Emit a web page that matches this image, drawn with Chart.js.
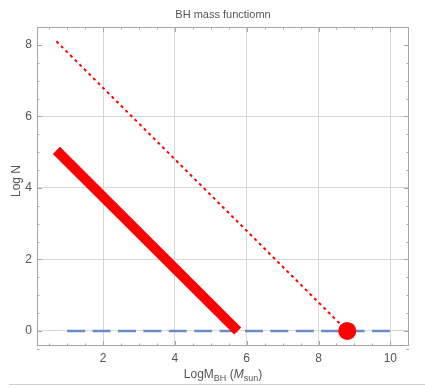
<!DOCTYPE html>
<html>
<head>
<meta charset="utf-8">
<script src="https://cdn.jsdelivr.net/npm/chart.js@4"></script>
<style>
  body { margin: 0; background: #fff; }
  #wrap { width: 425px; height: 388px; }
</style>
</head>
<body>
<div id="wrap"><canvas id="chart" width="425" height="388"></canvas></div>
<script>
// values
var thickX = [0.7, 5.75];
var thickY = [5.05, 0];
var dottedX = [0.7, 8.8];
var dottedY = [8.1, 0];
var dashedX = [1, 10];
var dashedY = [0, 0];
var pointX = [8.8];
var pointY = [0];
var xTicks = [2, 4, 6, 8, 10];
var yTicks = [0, 2, 4, 6, 8];

var grey = '#555';
var font = '"Liberation Sans", Arial, sans-serif';

function pts(xs, ys) {
  return xs.map(function(x, i) { return { x: x, y: ys[i] }; });
}

// frame + inward ticks (Mathematica style), and the text labels
var framePlugin = {
  id: 'frame',
  beforeDatasetsDraw: function(chart) {
    var ctx = chart.ctx, a = chart.chartArea;
    var xs = chart.scales.x, ys = chart.scales.y;
    ctx.save();
    ctx.strokeStyle = '#a6a6a6';
    ctx.lineWidth = 1;
    ctx.strokeRect(a.left + 0.5, a.top + 0.5, a.right - a.left - 1, a.bottom - a.top - 1);
    ctx.beginPath();
    for (var v = 0.5; v <= 10.5; v += 0.5) {
      var px = Math.round(xs.getPixelForValue(v)) + 0.5;
      var len = (v % 2 === 0) ? 5 : 2.5;
      ctx.moveTo(px, a.bottom); ctx.lineTo(px, a.bottom - len);
      ctx.moveTo(px, a.top); ctx.lineTo(px, a.top + len);
    }
    for (var w = -0.5; w <= 8.5; w += 0.5) {
      var py = Math.round(ys.getPixelForValue(w)) + 0.5;
      var l2 = (w % 2 === 0) ? 5 : 2.5;
      ctx.moveTo(a.left, py); ctx.lineTo(a.left + l2, py);
      ctx.moveTo(a.right, py); ctx.lineTo(a.right - l2, py);
    }
    ctx.stroke();
    ctx.restore();
  },
  afterDraw: function(chart) {
    var ctx = chart.ctx, a = chart.chartArea;
    var cx = (a.left + a.right) / 2;
    ctx.save();
    ctx.fillStyle = grey;
    ctx.textBaseline = 'alphabetic';

    // title
    ctx.font = '11px ' + font;
    ctx.textAlign = 'center';
    ctx.fillText('BH mass functiomn', cx, 18);

    // y title
    ctx.save();
    ctx.translate(20, 181);
    ctx.rotate(-Math.PI / 2);
    ctx.font = '12px ' + font;
    ctx.fillText('Log N', 0, 0);
    ctx.restore();

    // x title with subscripts
    var parts = [
      { t: 'LogM', f: '12px ' + font, dy: 0 },
      { t: 'BH', f: '9px ' + font, dy: 3 },
      { t: ' (', f: '12px ' + font, dy: 0 },
      { t: 'M', f: 'italic 12px ' + font, dy: 0 },
      { t: 'sun', f: '9px ' + font, dy: 3 },
      { t: ')', f: '12px ' + font, dy: 0 }
    ];
    var total = 0;
    parts.forEach(function(p) { ctx.font = p.f; p.w = ctx.measureText(p.t).width; total += p.w; });
    var x = cx - total / 2;
    ctx.textAlign = 'left';
    parts.forEach(function(p) {
      ctx.font = p.f;
      ctx.fillText(p.t, x, 378 + p.dy);
      x += p.w;
    });

    // separator line at the bottom
    ctx.strokeStyle = '#d0d0d0';
    ctx.lineWidth = 1;
    ctx.beginPath();
    ctx.moveTo(9, 384.5); ctx.lineTo(425, 384.5);
    ctx.stroke();
    ctx.restore();
  }
};

new Chart(document.getElementById('chart'), {
  type: 'line',
  data: {
    datasets: [
      {
        data: pts(thickX, thickY),
        borderColor: '#ff0000',
        borderWidth: 10,
        pointRadius: 0,
        order: 2
      },
      {
        data: pts(dottedX, dottedY),
        borderColor: '#ff0000',
        borderWidth: 2,
        borderDash: [3, 3.5],
        pointRadius: 0,
        order: 4
      },
      {
        data: pts(dashedX, dashedY),
        borderColor: '#6a8bc3',
        borderWidth: 2.5,
        borderDash: [18, 7.4],
        pointRadius: 0,
        order: 3
      },
      {
        data: pts(pointX, pointY),
        showLine: false,
        pointRadius: 9,
        pointBackgroundColor: '#ff0000',
        pointBorderColor: '#ff0000',
        pointBorderWidth: 0,
        order: 1
      }
    ]
  },
  options: {
    responsive: false,
    animation: false,
    events: [],
    layout: { padding: { left: 0, right: 16, top: 27, bottom: 0 } },
    plugins: {
      legend: { display: false },
      tooltip: { enabled: false }
    },
    scales: {
      x: {
        type: 'linear',
        min: 0.16,
        max: 10.52,
        afterFit: function(s) { s.height = 42; },
        afterBuildTicks: function(s) { s.ticks = xTicks.map(function(v) { return { value: v }; }); },
        grid: { color: '#d6d6d6', drawTicks: false },
        border: { display: false },
        ticks: { color: grey, font: { size: 12, family: font }, padding: 5, autoSkip: false, maxRotation: 0 }
      },
      y: {
        type: 'linear',
        min: -0.42,
        max: 8.5,
        afterFit: function(s) { s.width = 37; },
        afterBuildTicks: function(s) { s.ticks = yTicks.map(function(v) { return { value: v }; }); },
        grid: {
          color: function(c) { return c.tick && c.tick.value === 8 ? 'rgba(0,0,0,0)' : '#d6d6d6'; },
          drawTicks: false
        },
        border: { display: false },
        ticks: { color: grey, font: { size: 12, family: font }, padding: 5, autoSkip: false }
      }
    }
  },
  plugins: [framePlugin]
});
</script>
</body>
</html>
